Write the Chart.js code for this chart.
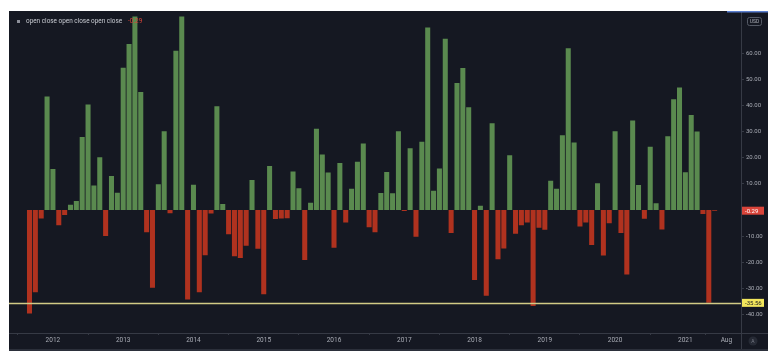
<!DOCTYPE html>
<html>
<head>
<meta charset="utf-8">
<script src="https://cdn.jsdelivr.net/npm/chart.js@4.4.1/dist/chart.umd.min.js"></script>
<style>
  html, body { margin: 0; padding: 0; background: #fff; }
  #panel { position: absolute; left: 9px; top: 11px; width: 759px; height: 338px; background: #151822; border-bottom: 2px solid #2b2f3a; }
  canvas { display: block; }
</style>
</head>
<body>
<div id="panel"><canvas id="chart" width="759" height="338"></canvas></div>
<script>
(() => {
  // ---------- Data (monthly % change) ----------
  const v2011 = [-39.6, -31.5, -3.3, 43.4];                       // Sep - Dec
  const v2012 = [15.7, -5.9, -1.9, 2.0, 3.4, 27.9, 40.4, 9.4, 20.2, -10.0, 13.0, 6.6];
  const v2013 = [54.4, 63.5, 75.0, 45.1, -8.5, -29.8, 9.8, 30.1, -1.3, 60.9, 75.0, -34.3];
  const v2014 = [9.6, -31.5, -17.3, -1.4, 39.7, 2.3, -9.3, -17.7, -18.4, -13.7, 11.5, -14.9];
  const v2015 = [-32.3, 16.8, -3.5, -3.3, -3.2, 14.7, 8.3, -19.2, 2.8, 31.1, 21.2, 14.3];
  const v2016 = [-14.5, 18.0, -4.8, 8.1, 18.4, 25.4, -6.6, -8.5, 6.5, 14.5, 6.4, 30.1];
  const v2017 = [-0.4, 23.6, -10.3, 26.1, 69.8, 7.3, 15.9, 65.5, -8.8, 48.6, 54.3, 39.3];
  const v2018 = [-26.8, 1.6, -32.8, 33.2, -18.9, -14.8, 20.9, -9.1, -5.9, -4.8, -36.8, -6.8];
  const v2019 = [-7.6, 11.2, 8.1, 28.6, 61.9, 25.8, -6.3, -4.8, -13.4, 10.2, -17.4, -5.1];
  const v2020 = [30.1, -8.8, -24.7, 34.2, 9.5, -3.4, 24.2, 2.6, -7.5, 28.2, 42.4, 46.9];
  const v2021 = [14.4, 36.3, 30.0, -1.6, -35.56, -0.29];            // Jan - Jun

  const lowLine = -35.56;
  const lastValue = -0.29;

  const monthNames = ["Jan", "Feb", "Mar", "Apr", "May", "Jun", "Jul", "Aug", "Sep", "Oct", "Nov", "Dec"];
  const tickMonths = ["Jan 2012", "Jan 2013", "Jan 2014", "Jan 2015", "Jan 2016", "Jan 2017",
    "Jan 2018", "Jan 2019", "Jan 2020", "Jan 2021", "Aug 2021"];
  const tickTexts = ["2012", "2013", "2014", "2015", "2016", "2017", "2018", "2019", "2020", "2021", "Aug"];

  // axis runs Jun 2011 .. Oct 2021, empty months on both ends
  const categories = [];
  for (let y = 2011; y <= 2021; y++) {
    for (let m = 0; m < 12; m++) {
      if (y === 2011 && m < 5) continue;
      if (y === 2021 && m > 9) continue;
      categories.push(monthNames[m] + " " + y);
    }
  }
  const values = [null, null, null,
    ...v2011, ...v2012, ...v2013, ...v2014, ...v2015, ...v2016,
    ...v2017, ...v2018, ...v2019, ...v2020, ...v2021,
    null, null, null, null];

  // ---------- Colours ----------
  const green = "#5a8a4f", red = "#b0321f";
  const axisCol = "#363a45", textCol = "#a9acb5";
  const font = "Roboto, 'Open Sans', sans-serif";

  // ---------- Overlay: price line, labels, header ----------
  const overlay = {
    id: "overlay",
    afterDatasetsDraw(chart) {
      const { ctx, chartArea: a, scales: { y } } = chart;
      const ly = Math.round(y.getPixelForValue(lowLine)) + 0.5;
      ctx.save();
      ctx.strokeStyle = "#d2cb86";
      ctx.lineWidth = 1.6;
      ctx.beginPath(); ctx.moveTo(a.left, ly); ctx.lineTo(a.right, ly); ctx.stroke();
      ctx.restore();
    },
    afterDraw(chart) {
      const { ctx, chartArea: a, scales: { y }, width, height } = chart;
      ctx.save();
      // frame lines
      ctx.strokeStyle = axisCol;
      ctx.lineWidth = 1;
      ctx.beginPath();
      ctx.moveTo(a.right + 0.5, 0); ctx.lineTo(a.right + 0.5, height);
      ctx.moveTo(0, a.bottom + 0.5); ctx.lineTo(width, a.bottom + 0.5);
      ctx.stroke();

      // blue accent top right
      ctx.strokeStyle = "#5b7fd0";
      ctx.lineWidth = 1.5;
      ctx.beginPath(); ctx.moveTo(718, 0.75); ctx.lineTo(width, 0.75); ctx.stroke();

      // price tags on the axis
      const tag = (val, bg, fg) => {
        const py = y.getPixelForValue(val);
        ctx.fillStyle = bg;
        ctx.fillRect(a.right + 1, py - 4, 22, 8);
        ctx.fillStyle = fg;
        ctx.font = "6px " + font;
        ctx.textBaseline = "middle";
        ctx.textAlign = "left";
        ctx.fillText(val.toFixed(2), a.right + 4, py + 0.5);
      };
      tag(lastValue, "#d9443a", "#ffffff");
      tag(lowLine, "#f2e65c", "#222222");

      // USD box
      ctx.strokeStyle = "#555a66";
      ctx.lineWidth = 1;
      ctx.beginPath();
      ctx.roundRect(a.right + 6.5, 6.5, 14, 8, 2);
      ctx.stroke();
      ctx.fillStyle = textCol;
      ctx.font = "5px " + font;
      ctx.textAlign = "center";
      ctx.textBaseline = "middle";
      ctx.fillText("USD", a.right + 13.5, 10.8);

      // small "A" button bottom right
      ctx.fillStyle = "#262a35";
      ctx.beginPath(); ctx.arc(a.right + 12, a.bottom + 8, 4.5, 0, Math.PI * 2); ctx.fill();
      ctx.fillStyle = "#777b86";
      ctx.font = "5px " + font;
      ctx.fillText("A", a.right + 12, a.bottom + 8.3);

      // header
      ctx.fillStyle = "#8c8f99";
      ctx.fillRect(8, 9, 3, 3);
      ctx.font = "6.4px " + font;
      ctx.textAlign = "left";
      ctx.fillStyle = "#c9ccd3";
      ctx.fillText("open close open close open close", 17, 10.8);
      const w = ctx.measureText("open close open close open close").width;
      ctx.fillStyle = "#d9443a";
      ctx.fillText(lastValue.toFixed(2), 17 + w + 6, 10.8);
      ctx.restore();
    }
  };

  // ---------- Chart ----------
  new Chart(document.getElementById("chart"), {
    type: "bar",
    data: {
      labels: categories,
      datasets: [{
        data: values,
        backgroundColor: values.map(v => v >= 0 ? green : red),
        borderWidth: 0,
        barPercentage: 0.86,
        categoryPercentage: 1.0
      }]
    },
    options: {
      responsive: false,
      animation: false,
      layout: { padding: 0 },
      plugins: { legend: { display: false }, tooltip: { enabled: false } },
      scales: {
        x: {
          offset: true,
          afterFit: s => { s.height = 16; },
          grid: { drawOnChartArea: false, tickLength: 2, color: axisCol },
          border: { display: true, color: axisCol },
          ticks: {
            autoSkip: false, maxRotation: 0, padding: 1,
            color: textCol, font: { size: 6.5, family: font },
            callback: (val, i) => {
              const k = tickMonths.indexOf(categories[i]);
              return k >= 0 ? tickTexts[k] : null;
            }
          }
        },
        y: {
          position: "right",
          min: -47.1, max: 74.0,
          afterFit: s => { s.width = 27; },
          grid: { drawOnChartArea: false, tickLength: 3, color: axisCol },
          border: { display: true, color: axisCol },
          ticks: {
            stepSize: 10, includeBounds: false, padding: 2,
            color: textCol, font: { size: 6, family: font },
            callback: v => (v > 60 || v === 0) ? null : v.toFixed(2)
          }
        }
      }
    },
    plugins: [overlay]
  });
})();
</script>
</body>
</html>
